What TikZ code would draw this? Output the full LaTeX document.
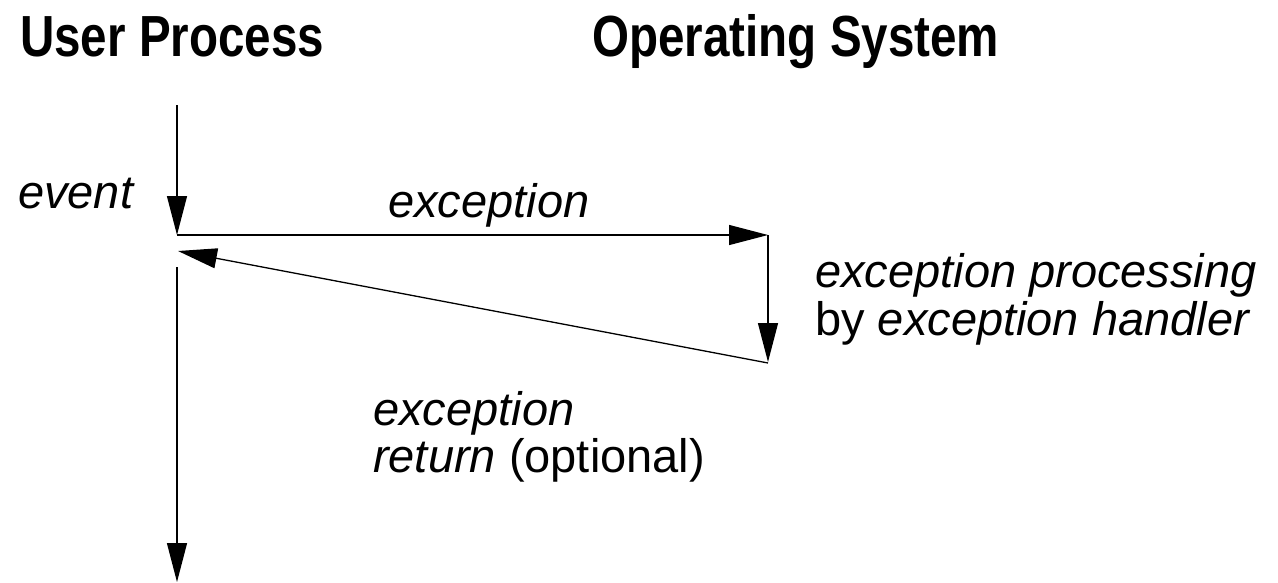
\documentclass[tikz,border=0pt]{standalone}
\usepackage{fontspec}
\setmainfont{Liberation Sans}
\newfontfamily\headfont{Liberation Sans}[FakeStretch=0.82]
\usetikzlibrary{arrows.meta}

\tikzset{
  flow/.style={line width=1.3pt, -{Triangle[length=39pt,width=20pt]}},
  head/.style={anchor=base west, inner sep=0pt, font=\headfont\bfseries\fontsize{58}{60}\selectfont},
  lbl/.style={anchor=base west, inner sep=0pt, font=\fontsize{47}{48}\selectfont},
}

\begin{document}
\begin{tikzpicture}[x=1pt, y=-1pt]
  \useasboundingbox (0,0) rectangle (1278,582);

  % column headings
  \node[head] (user) at (20,56) {User Process};
  \node[head] (os) at (592,56) {Operating System};

  % control-flow points
  \coordinate (start) at (177,105);
  \coordinate (evt) at (177,235);
  \coordinate (exc) at (768,235);
  \coordinate (hdl) at (768,362);
  \coordinate (hdlend) at (768,363);
  \coordinate (ret) at (178,251);
  \coordinate (resume) at (177,267);
  \coordinate (finish) at (177,582);

  % user process runs until the event
  \draw[flow] (start) -- (evt);
  % exception raised to the OS
  \draw[flow] (evt) -- (exc);
  % handler runs
  \draw[flow] (exc) -- (hdl);
  % return to the user process
  \draw[flow] (hdlend) -- (ret);
  % user process continues
  \draw[flow] (resume) -- (finish);

  % labels
  \node[lbl] (event) at (18,208) {\itshape event};
  \node[lbl] (exclbl) at (388,217) {\itshape exception};
  \node[lbl] (proc1) at (815,287) {\itshape exception processing};
  \node[lbl] (proc2) at (815,335) {by \itshape exception handler};
  \node[lbl] (ret1) at (373,425) {\itshape exception};
  \node[lbl] (ret2) at (373,472) {\textit{return} (optional)};
\end{tikzpicture}
\end{document}
